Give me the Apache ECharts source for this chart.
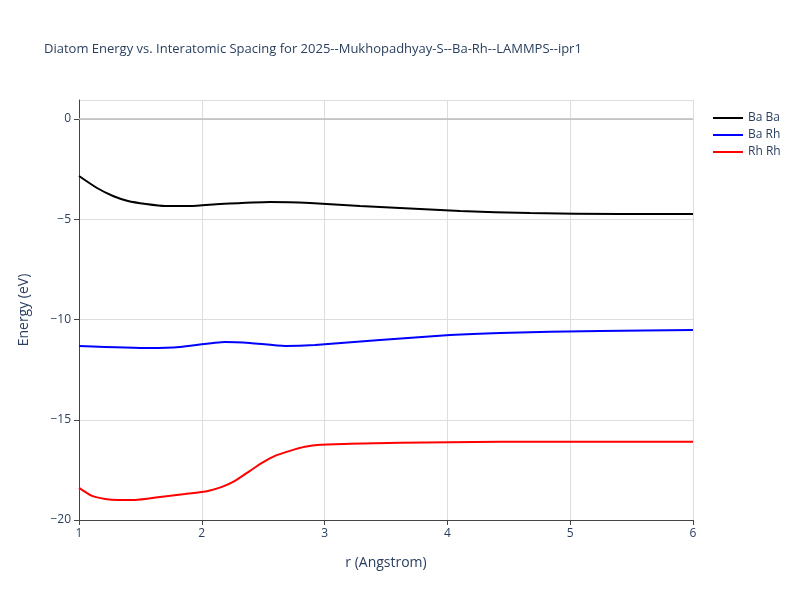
<!DOCTYPE html>
<html><head><meta charset="utf-8">
<script src="https://cdn.jsdelivr.net/npm/echarts@6/dist/echarts.min.js"></script>
<style>html,body{margin:0;padding:0;background:#fff}#c{width:800px;height:600px}</style>
</head><body><div id="c"></div>
<script>
const baBaR = [1.0,1.147,1.277,1.399,1.546,1.700,1.904,2.148,2.555,2.881,3.288,3.777,4.103,4.673,5.406,6.0];
const baBaE = [-2.84,-3.44,-3.84,-4.09,-4.24,-4.34,-4.34,-4.24,-4.14,-4.19,-4.34,-4.49,-4.59,-4.69,-4.74,-4.74];
const baRhR = [1.0,1.578,1.822,2.189,2.392,2.678,2.922,3.451,4.021,4.428,5.243,6.0];
const baRhE = [-11.32,-11.42,-11.37,-11.12,-11.17,-11.32,-11.27,-11.02,-10.77,-10.67,-10.57,-10.52];
const rhRhR = [1.0,1.106,1.212,1.318,1.456,1.66,1.863,2.05,2.164,2.27,2.392,2.49,2.596,2.718,2.84,2.963,3.207,3.614,4.428,6.0];
const rhRhE = [-18.4,-18.8,-18.95,-19.0,-19.0,-18.85,-18.7,-18.55,-18.35,-18.05,-17.55,-17.15,-16.8,-16.55,-16.35,-16.25,-16.2,-16.15,-16.1,-16.1];
const names = ['Ba Ba','Ba Rh','Rh Rh'];
const colors = ['#000000','#0000ff','#ff0000'];
const zip = (a,b)=>a.map((v,i)=>[v,b[i]]);
const data = [zip(baBaR,baBaE), zip(baRhR,baRhE), zip(rhRhR,rhRhE)];
const txt = '#2a3f5f';
const chart = echarts.init(document.getElementById('c'));
chart.setOption({
  animation:false,
  title:{text:'Diatom Energy vs. Interatomic Spacing for 2025--Mukhopadhyay-S--Ba-Rh--LAMMPS--ipr1',left:39,top:38,textStyle:{fontSize:13,fontWeight:'normal',color:txt,fontFamily:'Open Sans'}},
  legend:{orient:'vertical',left:708,top:107,itemWidth:30,itemHeight:2,itemGap:5,icon:'rect',textStyle:{color:txt,fontSize:12,fontFamily:'Open Sans'},data:names},
  grid:{left:79,right:107,top:100,bottom:80},
  xAxis:{type:'value',min:1,max:6,interval:1,name:'r (Angstrom)',nameLocation:'middle',nameGap:36,
    nameTextStyle:{color:txt,fontSize:14,fontFamily:'Open Sans'},
    axisLine:{show:true,onZero:false,lineStyle:{color:'#444'}},axisTick:{show:true,length:5,lineStyle:{color:'#444'}},
    axisLabel:{color:txt,fontSize:12,fontFamily:'Open Sans'},splitLine:{lineStyle:{color:'#ddd'}}},
  yAxis:{type:'value',min:-20,max:0.95,interval:5,name:'Energy (eV)',nameLocation:'middle',nameGap:48,
    nameTextStyle:{color:txt,fontSize:14,fontFamily:'Open Sans'},
    axisLine:{show:true,lineStyle:{color:'#444'}},axisTick:{show:true,length:5,lineStyle:{color:'#444'}},
    axisLabel:{color:txt,fontSize:12,fontFamily:'Open Sans',showMaxLabel:false,formatter:v=>String(v).replace('-','\u2212')},
    splitLine:{lineStyle:{color:'#ddd'}}},
  series:names.map((n,i)=>({name:n,type:'line',data:data[i],showSymbol:false,smooth:0.2,
    lineStyle:{color:colors[i],width:2},itemStyle:{color:colors[i]},
    markLine:i===0?{silent:true,symbol:'none',label:{show:false},lineStyle:{color:'#bbb',type:'solid',width:1.5},data:[{yAxis:0}]}:undefined}))
});
</script></body></html>
